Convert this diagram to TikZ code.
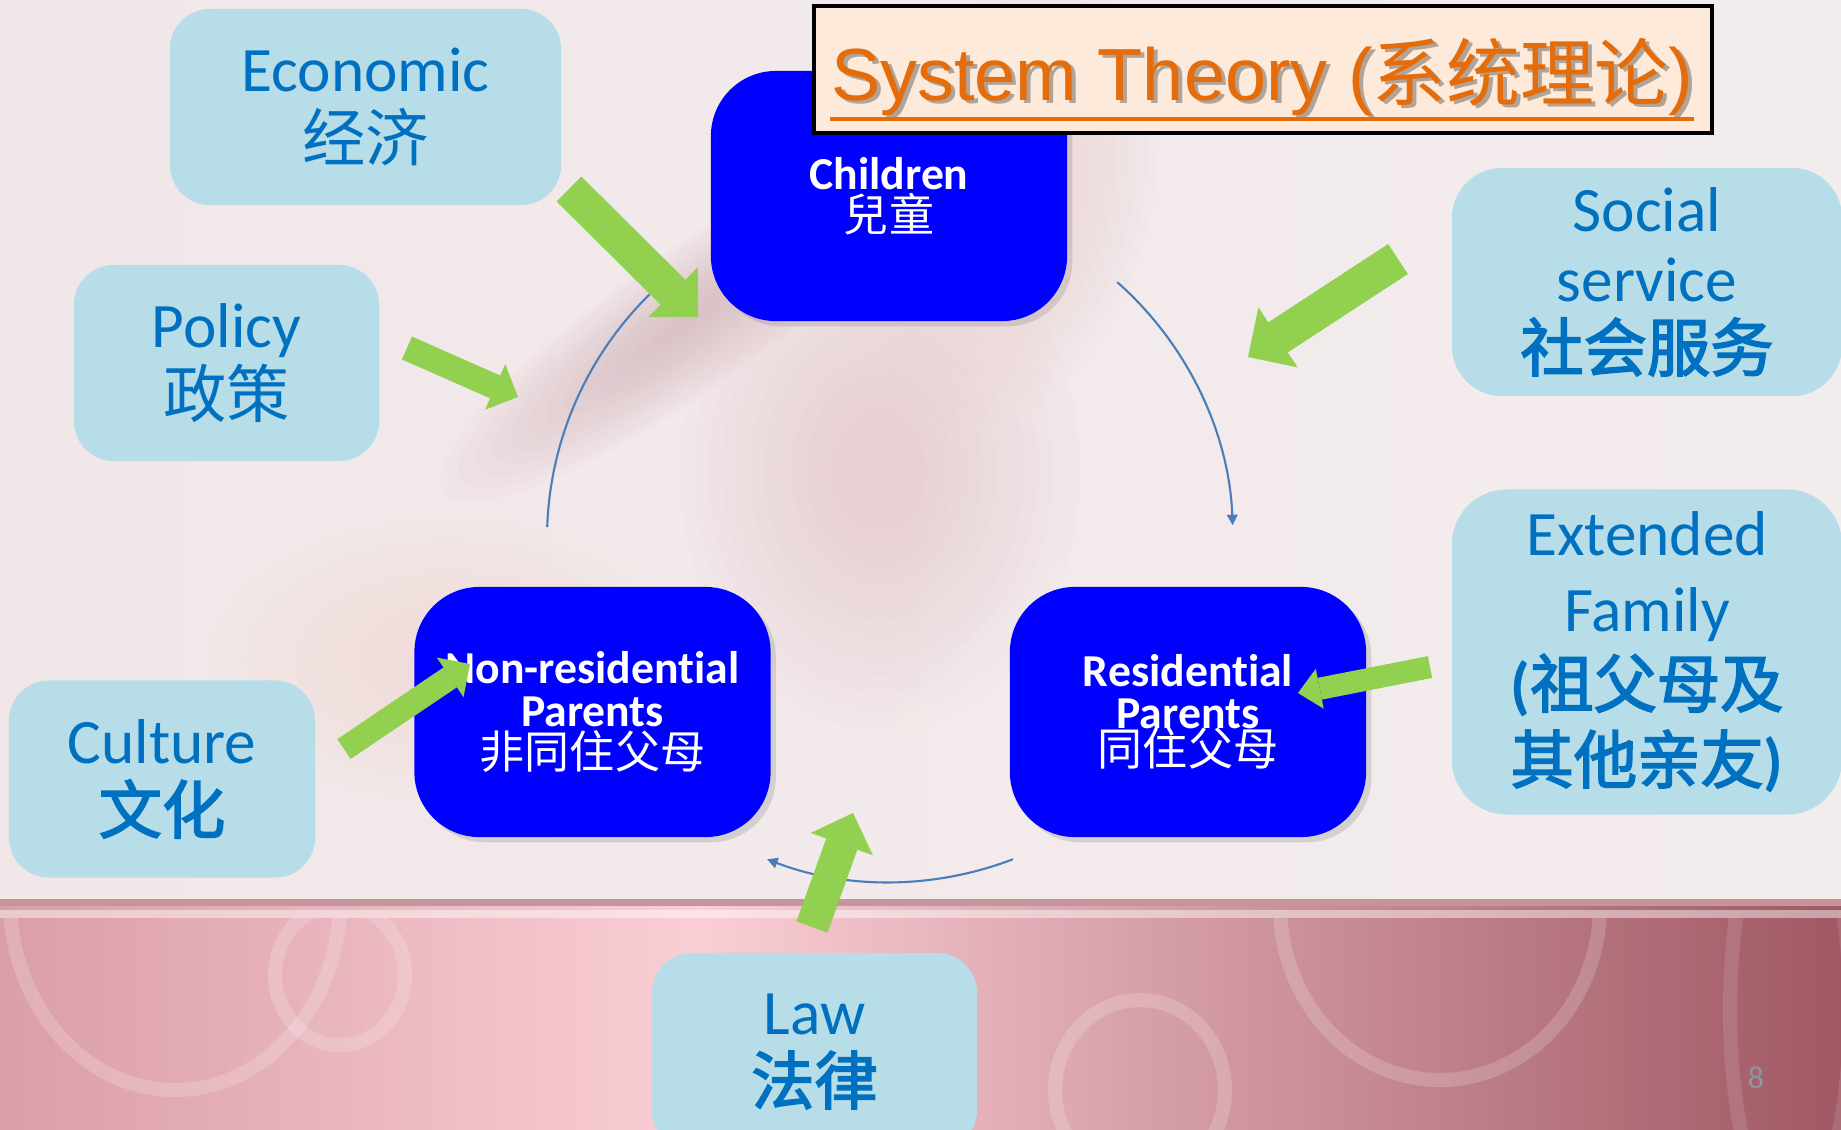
\documentclass[tikz,border=0pt]{standalone}
\usepackage{fontspec}
\setmainfont[Ligatures=NoCommon]{Carlito}
\newfontfamily\zhsc{Noto Sans CJK SC}
\newfontfamily\zhscb[FakeBold=2.6]{Noto Sans CJK SC}
\newfontfamily\zhtc{Noto Sans CJK TC}
\newfontfamily\arialfont{Liberation Sans}
\usetikzlibrary{arrows.meta,shadows,positioning}
\definecolor{boxblue}{RGB}{0,0,255}
\definecolor{paleblue}{RGB}{183,221,232}
\definecolor{textblue}{RGB}{0,112,192}
\definecolor{arrowgreen}{RGB}{146,208,80}
\definecolor{titleorange}{RGB}{228,108,10}
\definecolor{titlefill}{RGB}{253,234,218}
\definecolor{cyclecol}{RGB}{74,126,187}
\definecolor{bgtop}{RGB}{241,231,232}
\definecolor{bgtopr}{RGB}{243,236,237}
\definecolor{bandleft}{RGB}{218,158,168}
\definecolor{bandmid}{RGB}{250,206,213}
\definecolor{bandright}{RGB}{160,88,100}
\definecolor{pagegray}{RGB}{140,152,158}
\newcommand{\zh}[1]{{\zhsc #1}}
\newcommand{\zhb}[1]{{\zhscb #1}}

\begin{document}
\begin{tikzpicture}[x=0.01cm,y=-0.01cm,
  outer/.style={fill=paleblue, text=textblue, rounded corners=0.4cm, align=center,
    font=\fontsize{18}{19.8}\selectfont, inner sep=0pt},
  inner/.style={fill=boxblue, text=white, rounded corners=0.65cm, align=center,
    minimum width=3.56cm, minimum height=2.5cm, inner sep=0pt,
    font=\fontsize{13}{12}\selectfont\bfseries,
    drop shadow={shadow xshift=1.5pt, shadow yshift=-1.5pt, opacity=0.25}},
  push/.style 2 args={arrowgreen, line width=#1,
    -{Triangle[length=#1, width=#2, line width=0pt]}},
  cyc/.style={cyclecol, line width=0.6pt},
  ring/.style={white, opacity=0.18, line width=4pt}]
\useasboundingbox (0,0) rectangle (1841,1129);
\clip (0,0) rectangle (1841,1129);

% Hintergrund
\shade[left color=bgtop, right color=bgtopr] (0,0) rectangle (1841,905);
\foreach \cx/\cy/\rx/\ry/\rot/\col in {
    690/320/300/70/35/{rgb,255:red,200;green,158;blue,166},
    880/470/200/260/0/{rgb,255:red,232;green,185;blue,190},
    1010/200/140/230/-15/{rgb,255:red,238;green,200;blue,200},
    450/660/240/140/0/{rgb,255:red,240;green,214;blue,204},
    1060/650/280/70/40/white}{
  \foreach \s in {1,0.93,...,0.1}{
    \fill[color=\col, opacity=0.045, rotate around={\rot:(\cx,\cy)}]
      (\cx,\cy) ellipse [x radius=\s*\rx, y radius=\s*\ry];
  }
}

% Band unten
\shade[left color=bandleft, right color=bandmid] (0,905) rectangle (700,1129);
\shade[left color=bandmid, right color=bandright] (700,905) rectangle (1841,1129);
\fill[color={rgb,255:red,196;green,150;blue,156}] (0,899) rectangle (1841,906);
\fill[white, opacity=0.45] (0,910) rectangle (1841,918);
\begin{scope}
  \clip (0,918) rectangle (1841,1129);
  \draw[ring] (175,900) ellipse [x radius=165, y radius=190];
  \draw[ring] (340,975) ellipse [x radius=65, y radius=70];
  \draw[ring] (1140,1090) ellipse [x radius=85, y radius=90];
  \draw[ring] (1440,905) ellipse [x radius=160, y radius=175];
  \draw[ring, opacity=0.12] (1790,1010) ellipse [x radius=60, y radius=210];
\end{scope}

% Kreislauf
\coordinate (hub) at (890,539);
\draw[cyc] (hub) ++(182:343) arc[start angle=182, end angle=225.5, radius=343];
\draw[cyc, -{Triangle[length=3pt, width=3pt]}] (hub) ++(-48.5:343)
  arc[start angle=-48.5, end angle=-2.3, radius=343];
\draw[cyc, -{Triangle[length=3pt, width=3pt]}] (hub) ++(69:343)
  arc[start angle=69, end angle=111, radius=343];

% Umfeld
\node[outer, minimum width=3.91cm, minimum height=1.96cm] (economic) at (365.5,107)
  {Economic\\\zh{经济}};
\node[outer, minimum width=3.05cm, minimum height=1.96cm] (policy) at (226.5,363)
  {Policy\\\zh{政策}};
\node[outer, minimum width=3.06cm, minimum height=1.97cm] (culture) at (162,779)
  {Culture\\\zhb{文化}};
\node[outer, minimum width=3.25cm, minimum height=1.97cm] (law) at (814.5,1051.5)
  {Law\\\zhb{法律}};
\node[outer, rounded corners=0.5cm, minimum width=3.9cm, minimum height=2.28cm] (social) at (1647,282)
  {Social\\service\\\zhb{社会服务}};
\node[outer, rounded corners=0.55cm, minimum width=3.9cm, minimum height=3.25cm,
  font=\fontsize{18}{21.6}\selectfont] (extended) at (1647,652)
  {Extended\\Family\\\textbf{(}\zhb{祖父母及}\\\zhb{其他亲友}\textbf{)}};

% Familie
\node[inner] (children) at (889,196)
  {Children\\{\zhtc\mdseries\fontsize{12.8}{12}\selectfont 兒童}};
\node[inner] (nonres) at (592.5,712)
  {Non-residential\\Parents\\{\zhtc\mdseries\fontsize{12.8}{12}\selectfont 非同住父母}};
\node[inner] (resid) at (1188,712)
  {Residential\\Parents\\[-1.5pt]{\zhtc\mdseries\fontsize{12.8}{12}\selectfont 同住父母}};

% Titel
\node[draw=black, line width=1.1pt, fill=titlefill, minimum width=8.98cm,
  minimum height=1.27cm, inner sep=0pt] (ttlbox) at (1263,69.5) {};
\node[anchor=base, inner sep=0pt, text=black, opacity=0.3,
  font=\arialfont\fontsize{21}{21}\selectfont] (ttlshadow) at (1266,103)
  {System Theory (\zh{系统理论})};
\node[anchor=base, inner sep=0pt, text=titleorange,
  font=\arialfont\fontsize{21}{21}\selectfont] (ttl) at (1262,100)
  {System Theory (\zh{系统理论})};
\coordinate (ul) at (0,119);
\draw[titleorange, line width=0.9pt] (ttl.west |- ul) -- (ttl.east |- ul);

% gruene Pfeile
\coordinate (ecoT) at (569,189);  \coordinate (ecoH) at (698,317);
\coordinate (polT) at (407,348);  \coordinate (polH) at (518,397);
\coordinate (socT) at (1398,259); \coordinate (socH) at (1248,357);
\coordinate (extT) at (1430,667); \coordinate (extH) at (1298,693);
\coordinate (culT) at (344,749);  \coordinate (culH) at (470,664);
\coordinate (lawT) at (812,927);  \coordinate (lawH) at (853,813);
\foreach \von/\nach/\w/\kw in {ecoT/ecoH/10pt/20pt, polT/polH/7.1pt/14.2pt,
    socT/socH/10.2pt/20.4pt, extT/extH/6.3pt/11.6pt, culT/culH/6.8pt/13.6pt,
    lawT/lawH/9.4pt/18.8pt}{
  \draw[push={\w}{\kw}] (\von) -- (\nach);
}

\node[text=pagegray, font=\fontsize{9}{9}\selectfont] (pgnum) at (1756,1078) {8};
\end{tikzpicture}
\end{document}
